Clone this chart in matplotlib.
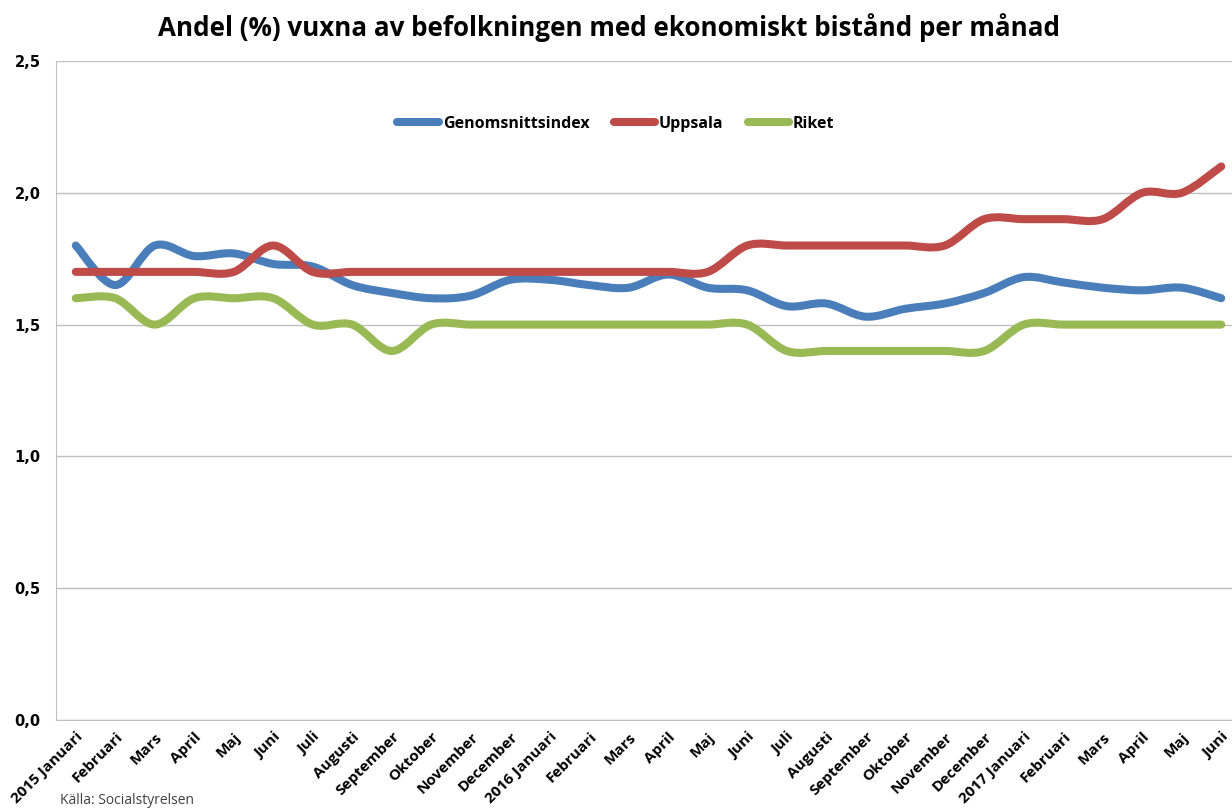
import numpy as np
import matplotlib
matplotlib.use("Agg")
import matplotlib.pyplot as plt
from matplotlib.path import Path
from matplotlib.patches import PathPatch
from matplotlib.lines import Line2D
from matplotlib.ticker import FuncFormatter

# Data
months = ["2015 Januari", "Februari", "Mars", "April", "Maj", "Juni", "Juli",
          "Augusti", "September", "Oktober", "November", "December",
          "2016 Januari", "Februari", "Mars", "April", "Maj", "Juni", "Juli",
          "Augusti", "September", "Oktober", "November", "December",
          "2017 Januari", "Februari", "Mars", "April", "Maj", "Juni"]

genomsnitt = [1.80, 1.65, 1.80, 1.76, 1.77, 1.73, 1.72, 1.65, 1.62, 1.60,
              1.61, 1.67, 1.67, 1.65, 1.64, 1.69, 1.64, 1.63, 1.57, 1.58,
              1.53, 1.56, 1.58, 1.62, 1.68, 1.66, 1.64, 1.63, 1.64, 1.60]
uppsala = [1.7, 1.7, 1.7, 1.7, 1.7, 1.8, 1.7, 1.7, 1.7, 1.7,
           1.7, 1.7, 1.7, 1.7, 1.7, 1.7, 1.7, 1.8, 1.8, 1.8,
           1.8, 1.8, 1.8, 1.9, 1.9, 1.9, 1.9, 2.0, 2.0, 2.1]
riket = [1.6, 1.6, 1.5, 1.6, 1.6, 1.6, 1.5, 1.5, 1.4, 1.5,
         1.5, 1.5, 1.5, 1.5, 1.5, 1.5, 1.5, 1.5, 1.4, 1.4,
         1.4, 1.4, 1.4, 1.4, 1.5, 1.5, 1.5, 1.5, 1.5, 1.5]

series = [("Genomsnittsindex", genomsnitt, "#4A7EBB"),
          ("Uppsala", uppsala, "#BE4B48"),
          ("Riket", riket, "#98B954")]

FONT = "Open Sans"


def smooth_path(x, y):
    """Excel-liknande utjämnad linje (Catmull-Rom som Bezier)."""
    x = np.asarray(x, float)
    y = np.asarray(y, float)
    px = np.concatenate([[x[0]], x, [x[-1]]])
    py = np.concatenate([[y[0]], y, [y[-1]]])
    verts = [(x[0], y[0])]
    codes = [Path.MOVETO]
    for i in range(1, len(x)):
        c1 = (px[i] + (px[i + 1] - px[i - 1]) / 6, py[i] + (py[i + 1] - py[i - 1]) / 6)
        c2 = (px[i + 1] - (px[i + 2] - px[i]) / 6, py[i + 1] - (py[i + 2] - py[i]) / 6)
        verts += [c1, c2, (x[i], y[i])]
        codes += [Path.CURVE4] * 3
    return Path(verts, codes)


fig = plt.figure(figsize=(12.32, 8.09), dpi=100)
ax = fig.add_axes([56 / 1232, 1 - 720 / 809, 1185 / 1232, 659 / 809])

x = np.arange(len(months))
for name, vals, color in series:
    patch = PathPatch(smooth_path(x, vals), facecolor="none", edgecolor=color,
                      lw=5.8, capstyle="round", joinstyle="round", zorder=3)
    ax.add_patch(patch)

ax.set_xlim(-0.5, len(months) - 0.5)
ax.set_ylim(0, 2.5)
ax.set_yticks(np.arange(0, 2.51, 0.5))
ax.yaxis.set_major_formatter(FuncFormatter(lambda v, p: f"{v:.1f}".replace(".", ",")))
ax.grid(axis="y", color="#BFBFBF", lw=1)
ax.set_axisbelow(True)

for s in ["top", "right"]:
    ax.spines[s].set_visible(False)
ax.spines["left"].set_color("#BFBFBF")
ax.spines["bottom"].set_color("#BFBFBF")

ax.set_xticks(x)
ax.set_xticklabels(months, rotation=45, ha="right", va="top", rotation_mode="anchor",
                   fontsize=11, fontweight="bold", family=FONT)
ax.tick_params(axis="x", length=0, pad=7)
ax.tick_params(axis="y", length=0, pad=11)
for lab in ax.get_yticklabels():
    lab.set_fontweight("bold")
    lab.set_fontsize(10.5)
    lab.set_family("DejaVu Sans")

fig.text(609 / 1232, 1 - 28 / 809, "Andel (%) vuxna av befolkningen med ekonomiskt bistånd per månad",
         ha="center", va="center", fontsize=18.7, fontweight="bold", family=FONT)

handles = [Line2D([], [], color=c, lw=5.8, solid_capstyle="round") for _, _, c in series]
fig.legend(handles, [n for n, _, _ in series], loc="center", ncol=3,
           bbox_to_anchor=(616 / 1232, 1 - 124 / 809), frameon=False,
           handlelength=2.6, handletextpad=0.25, columnspacing=1.5,
           prop={"family": FONT, "weight": "bold", "size": 11.5})

fig.text(60 / 1232, 1 - 801 / 809, "Källa: Socialstyrelsen", ha="left", va="center",
         fontsize=10, family=FONT, color="#404040")

fig.savefig("out.png", dpi=100)
